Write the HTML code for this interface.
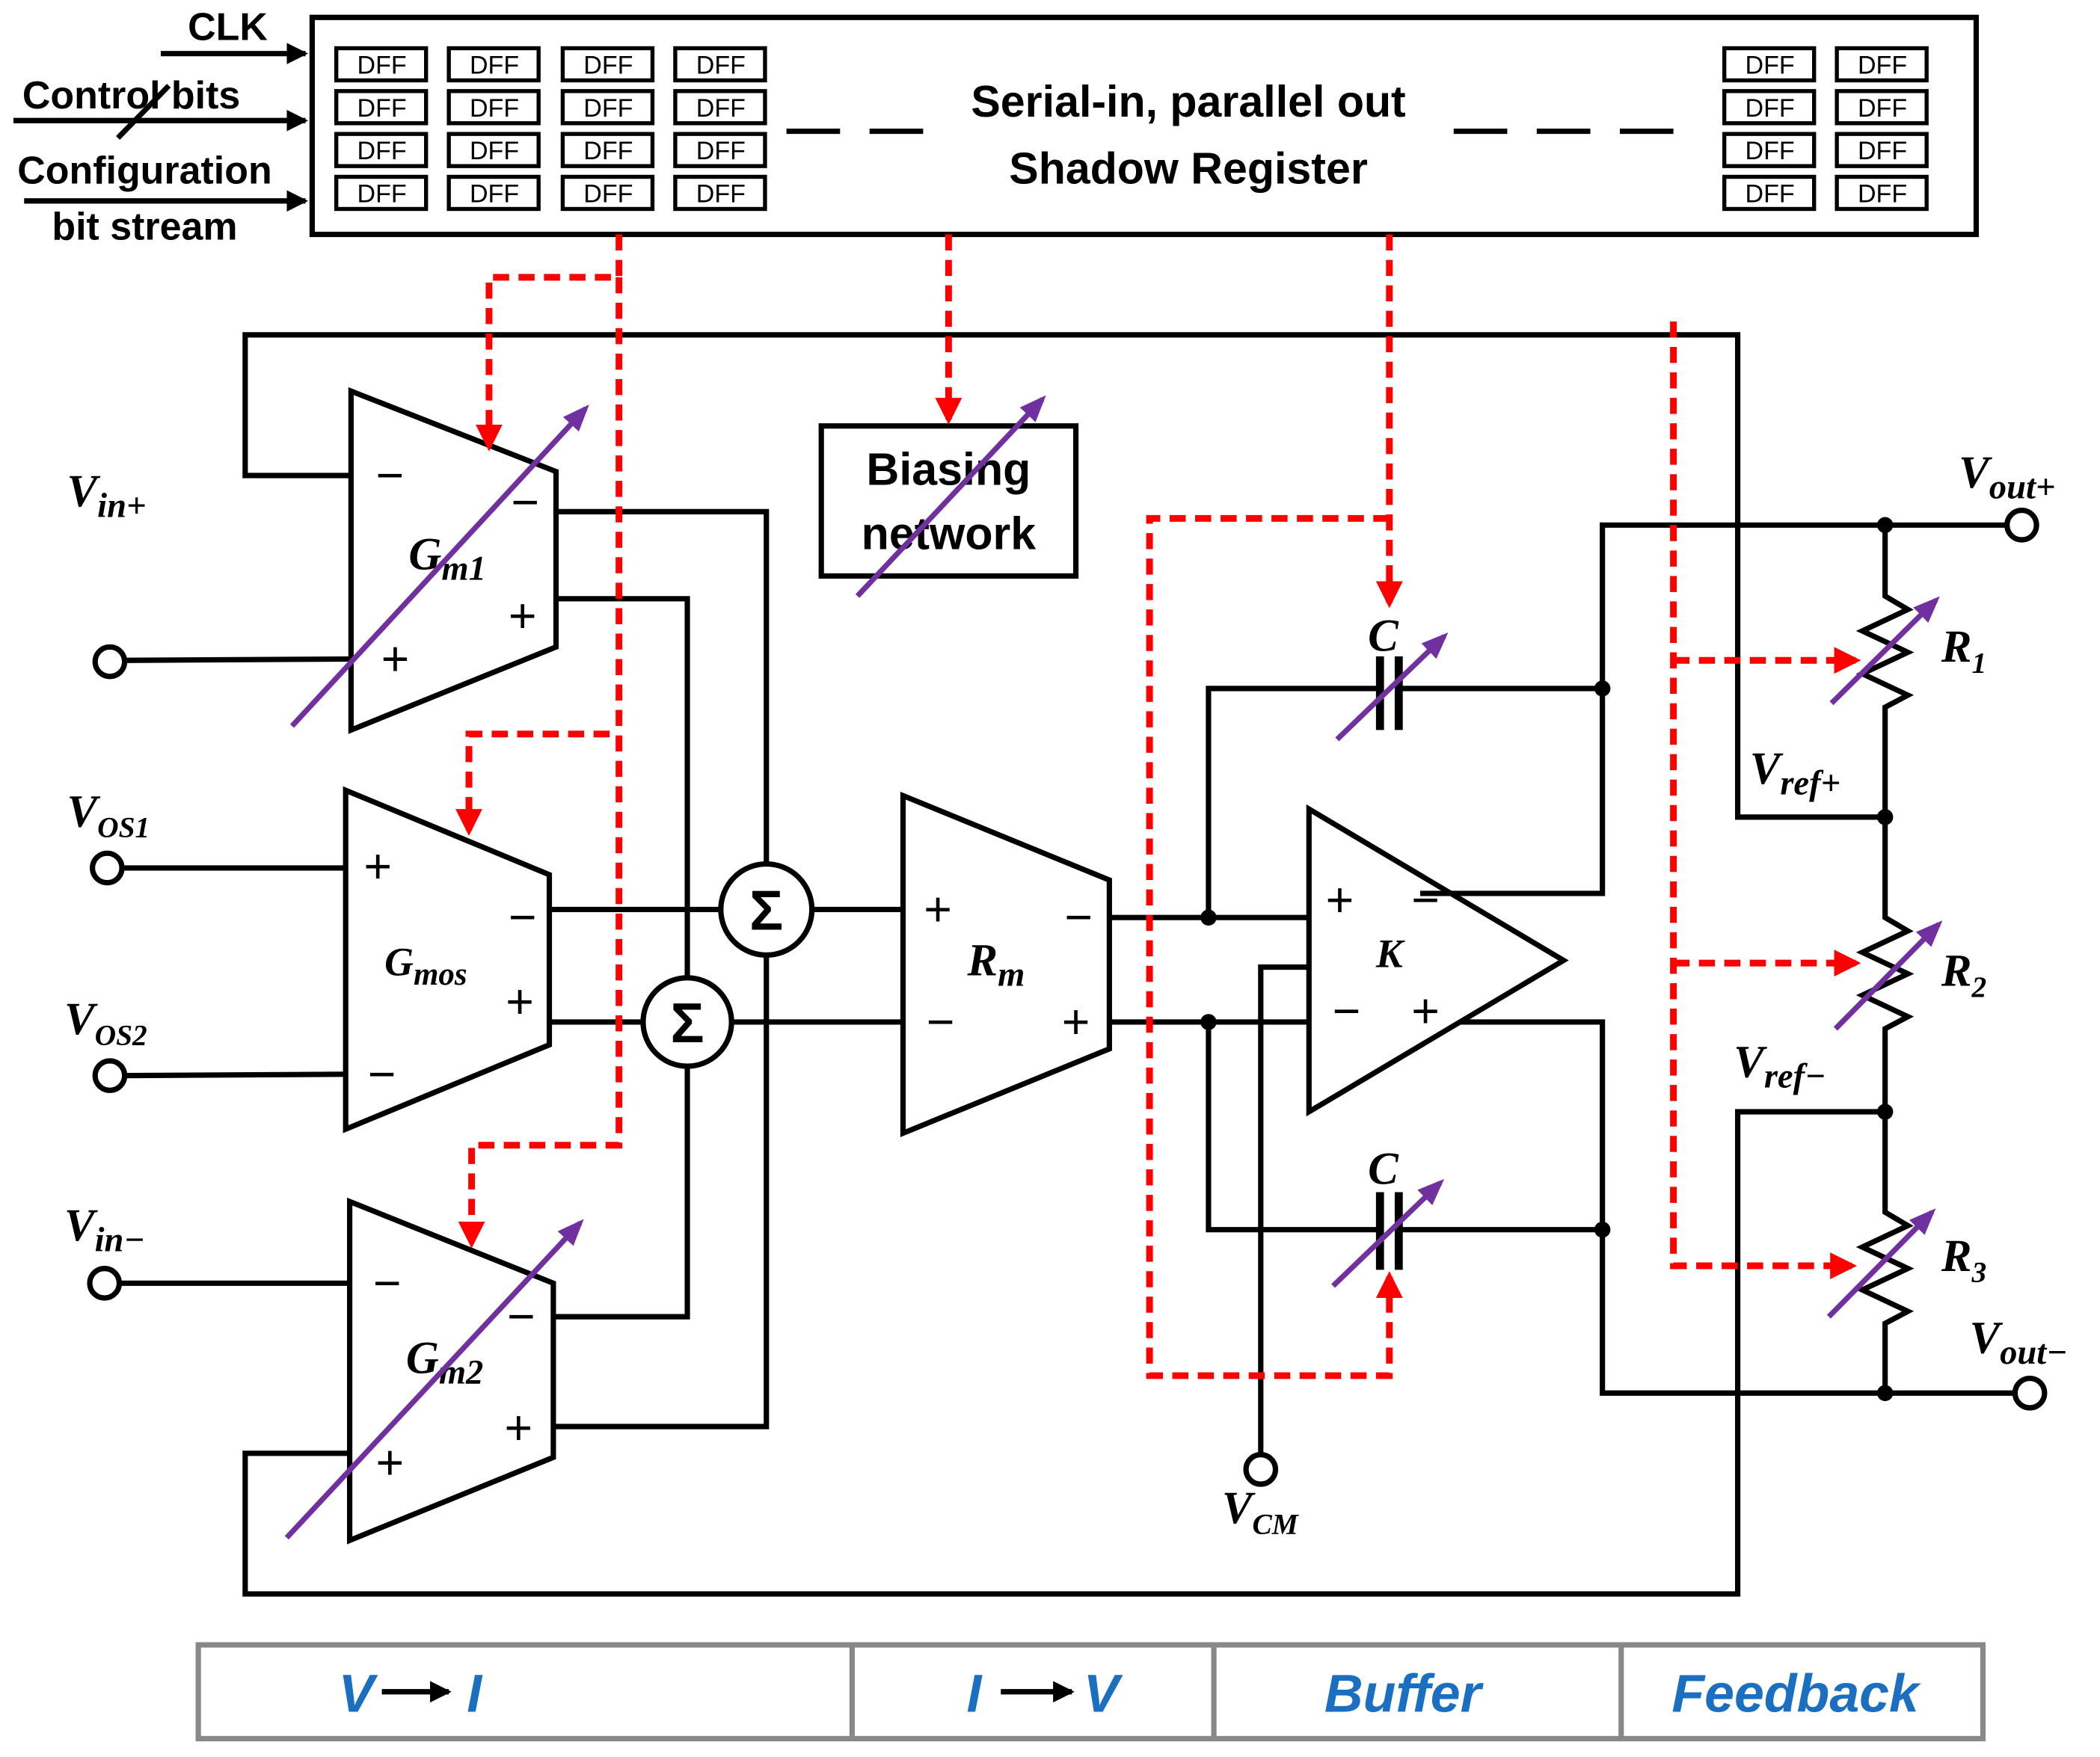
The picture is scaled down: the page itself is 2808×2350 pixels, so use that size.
<!DOCTYPE html>
<html><head><meta charset="utf-8"><style>
html,body{margin:0;padding:0;background:#fff}
svg{display:block}
.s{font-family:"Liberation Sans",sans-serif;font-weight:bold}
.m{font-family:"Liberation Serif",serif;font-weight:bold;font-style:italic}
.d{font-family:"Liberation Sans",sans-serif;font-size:19px}
</style></head><body>
<svg width="2808" height="2350" viewBox="0 0 1567.4 1311.7" preserveAspectRatio="none" xmlns="http://www.w3.org/2000/svg">
<defs>
<marker id="ra" markerWidth="4" markerHeight="4" refX="3.2" refY="2" orient="auto" markerUnits="strokeWidth"><path d="M0,0L4,2L0,4z" fill="#f00"/></marker>
<marker id="ka" markerWidth="4" markerHeight="4" refX="3.5" refY="2" orient="auto" markerUnits="strokeWidth"><path d="M0,0L4,2L0,4z" fill="#000"/></marker>
<marker id="pa" markerWidth="5" markerHeight="5" refX="4" refY="2.5" orient="auto" markerUnits="strokeWidth"><path d="M0,0.5L5,2.5L0,4.5z" fill="#7030a0"/></marker>
</defs>
<g fill="none" stroke="#000" stroke-width="4">
<rect x="233" y="13" width="1242" height="162"/>
</g>
<g fill="none" stroke="#000" stroke-width="3">
<rect x="251" y="36" width="67" height="24"/><rect x="335" y="36" width="67" height="24"/><rect x="420" y="36" width="67" height="24"/><rect x="504" y="36" width="67" height="24"/>
<rect x="251" y="68" width="67" height="24"/><rect x="335" y="68" width="67" height="24"/><rect x="420" y="68" width="67" height="24"/><rect x="504" y="68" width="67" height="24"/>
<rect x="251" y="100" width="67" height="24"/><rect x="335" y="100" width="67" height="24"/><rect x="420" y="100" width="67" height="24"/><rect x="504" y="100" width="67" height="24"/>
<rect x="251" y="132" width="67" height="24"/><rect x="335" y="132" width="67" height="24"/><rect x="420" y="132" width="67" height="24"/><rect x="504" y="132" width="67" height="24"/>
<rect x="1287" y="36" width="67" height="24"/><rect x="1371" y="36" width="67" height="24"/>
<rect x="1287" y="68" width="67" height="24"/><rect x="1371" y="68" width="67" height="24"/>
<rect x="1287" y="100" width="67" height="24"/><rect x="1371" y="100" width="67" height="24"/>
<rect x="1287" y="132" width="67" height="24"/><rect x="1371" y="132" width="67" height="24"/>
</g>
<g class="d" text-anchor="middle">
<text x="285" y="55">DFF</text><text x="369" y="55">DFF</text><text x="454" y="55">DFF</text><text x="538" y="55">DFF</text>
<text x="285" y="87">DFF</text><text x="369" y="87">DFF</text><text x="454" y="87">DFF</text><text x="538" y="87">DFF</text>
<text x="285" y="119">DFF</text><text x="369" y="119">DFF</text><text x="454" y="119">DFF</text><text x="538" y="119">DFF</text>
<text x="285" y="151">DFF</text><text x="369" y="151">DFF</text><text x="454" y="151">DFF</text><text x="538" y="151">DFF</text>
<text x="1321" y="55">DFF</text><text x="1405" y="55">DFF</text>
<text x="1321" y="87">DFF</text><text x="1405" y="87">DFF</text>
<text x="1321" y="119">DFF</text><text x="1405" y="119">DFF</text>
<text x="1321" y="151">DFF</text><text x="1405" y="151">DFF</text>
</g>
<g class="s" font-size="33" text-anchor="middle">
<text x="887" y="87">Serial-in, parallel out</text>
<text x="887" y="137">Shadow Register</text>
</g>
<g stroke="#000" stroke-width="4" stroke-dasharray="40,22" fill="none">
<line x1="587" y1="98" x2="697" y2="98"/><line x1="1085" y1="98" x2="1270" y2="98"/>
</g>
<g class="s" font-size="29" text-anchor="middle">
<text x="170" y="30">CLK</text>
<text x="98" y="81">Control bits</text>
<text x="108" y="137">Configuration</text>
<text x="108" y="179">bit stream</text>
</g>
<g stroke="#000" stroke-width="4" fill="none">
<line x1="120" y1="40" x2="228" y2="40" marker-end="url(#ka)"/>
<line x1="10" y1="90" x2="228" y2="90" marker-end="url(#ka)"/>
<line x1="88" y1="103" x2="126" y2="64"/>
<line x1="18" y1="150" x2="228" y2="150" marker-end="url(#ka)"/>
</g>
<g stroke="#000" stroke-width="4" fill="none" stroke-linejoin="miter">
<polyline points="262,355 183,355 183,250 1297,250 1297,610 1407,610"/>
<polyline points="261,1085 183,1085 183,1190 1297,1190 1297,830 1407,830"/>
<polygon points="262,292 415,352 415,483 262,545"/>
<polygon points="258,590 410,653 410,780 258,843"/>
<polygon points="261,897 413,958 413,1088 261,1150"/>
<polygon points="674,594 828,657 828,783 674,846"/>
<polygon points="977,604 1167,717 977,830"/>
<rect x="613" y="318" width="190" height="112"/>
<line x1="93" y1="493" x2="262" y2="492"/>
<line x1="91" y1="648" x2="258" y2="648"/>
<line x1="93" y1="803" x2="258" y2="802"/>
<line x1="89" y1="958" x2="261" y2="958"/>
<polyline points="415,382 572,382 572,645"/>
<polyline points="415,447 513,447 513,730"/>
<line x1="410" y1="679" x2="538" y2="679"/>
<line x1="410" y1="763" x2="480" y2="763"/>
<line x1="606" y1="679" x2="674" y2="679"/>
<line x1="546" y1="763" x2="674" y2="763"/>
<polyline points="413,983 513,983 513,796"/>
<polyline points="413,1065 572,1065 572,713"/>
<circle cx="572" cy="679" r="34"/>
<circle cx="513" cy="763" r="33"/>
<line x1="828" y1="685" x2="977" y2="685"/>
<line x1="828" y1="763" x2="977" y2="763"/>
<polyline points="902,685 902,514 1030,514"/>
<polyline points="1044,514 1196,514"/>
<polyline points="902,763 902,918 1030,918"/>
<polyline points="1044,918 1196,918"/>
<polyline points="977,722 941,722 941,1086"/>
<polyline points="1060,667 1196,667 1196,392 1498,392"/>
<polyline points="1090,763 1196,763 1196,1040 1504,1040"/>
<polyline points="1407,392 1407,445 1424,455 1390,471 1424,487 1390,503 1424,519 1407,528 1407,685 1424,695 1390,711 1424,727 1390,743 1424,759 1407,768 1407,905 1424,915 1390,931 1424,947 1390,963 1424,979 1407,988 1407,1040"/>
<circle cx="82" cy="494" r="11"/><circle cx="80" cy="648" r="11"/><circle cx="82" cy="803" r="11"/><circle cx="78" cy="958" r="11"/>
<circle cx="941" cy="1097" r="11"/><circle cx="1509" cy="392" r="11"/><circle cx="1515" cy="1040" r="11"/>
</g>
<g stroke="#000" stroke-width="6">
<line x1="1030" y1="490" x2="1030" y2="545"/><line x1="1044" y1="490" x2="1044" y2="545"/>
<line x1="1030" y1="890" x2="1030" y2="948"/><line x1="1044" y1="890" x2="1044" y2="948"/>
</g>
<g fill="#000">
<circle cx="902" cy="685" r="6"/><circle cx="902" cy="763" r="6"/>
<circle cx="1196" cy="514" r="6"/><circle cx="1196" cy="918" r="6"/>
<circle cx="1407" cy="392" r="6"/><circle cx="1407" cy="610" r="6"/><circle cx="1407" cy="830" r="6"/><circle cx="1407" cy="1040" r="6"/>
</g>
<g class="s" font-size="42" text-anchor="middle" font-weight="normal">
<text x="572" y="694">Σ</text><text x="513" y="778">Σ</text>
</g>
<g font-family="Liberation Sans,sans-serif" font-size="36" text-anchor="middle">
<text x="291" y="367">−</text><text x="392" y="387">−</text><text x="390" y="472">+</text><text x="295" y="504">+</text>
<text x="282" y="659">+</text><text x="390" y="697">−</text><text x="388" y="760">+</text><text x="285" y="814">−</text>
<text x="289" y="970">−</text><text x="389" y="995">−</text><text x="387" y="1078">+</text><text x="291" y="1104">+</text>
<text x="700" y="691">+</text><text x="805" y="697">−</text><text x="702" y="775">−</text><text x="803" y="775">+</text>
<text x="1000" y="684">+</text><text x="1064" y="684">−</text><text x="1005" y="767">−</text><text x="1064" y="767">+</text>
</g>
<g class="s" font-size="34" text-anchor="middle">
<text x="708" y="362">Biasing</text><text x="708" y="410">network</text>
</g>
<g class="m" font-size="34">
<text x="305" y="425">G<tspan font-size="26" dy="8">m1</tspan></text>
<text x="287" y="728" font-size="30">G<tspan font-size="24" dy="7">mos</tspan></text>
<text x="303" y="1025">G<tspan font-size="26" dy="8">m2</tspan></text>
<text x="722" y="728">R<tspan font-size="26" dy="8">m</tspan></text>
<text x="1027" y="722" font-size="30">K</text>
<text x="1021" y="486">C</text><text x="1021" y="884">C</text>
<text x="50" y="378">V<tspan font-size="26" dy="8">in+</tspan></text>
<text x="50" y="617">V<tspan font-size="22" dy="8">OS1</tspan></text>
<text x="48" y="772">V<tspan font-size="22" dy="8">OS2</tspan></text>
<text x="48" y="926">V<tspan font-size="26" dy="8">in−</tspan></text>
<text x="912" y="1137">V<tspan font-size="22" dy="8">CM</tspan></text>
<text x="1462" y="364">V<tspan font-size="26" dy="8">out+</tspan></text>
<text x="1470" y="1010">V<tspan font-size="26" dy="8">out−</tspan></text>
<text x="1306" y="585">V<tspan font-size="26" dy="8">ref+</tspan></text>
<text x="1294" y="804">V<tspan font-size="26" dy="8">ref−</tspan></text>
<text x="1449" y="494">R<tspan font-size="22" dy="8">1</tspan></text>
<text x="1449" y="736">R<tspan font-size="22" dy="8">2</tspan></text>
<text x="1449" y="949">R<tspan font-size="22" dy="8">3</tspan></text>
</g>
<g stroke="#7030a0" stroke-width="4" fill="none">
<line x1="218" y1="542" x2="437" y2="305" marker-end="url(#pa)"/>
<line x1="214" y1="1148" x2="433" y2="913" marker-end="url(#pa)"/>
<line x1="640" y1="445" x2="778" y2="298" marker-end="url(#pa)"/>
<line x1="998" y1="552" x2="1078" y2="475" marker-end="url(#pa)"/>
<line x1="995" y1="960" x2="1075" y2="883" marker-end="url(#pa)"/>
<line x1="1367" y1="525" x2="1445" y2="448" marker-end="url(#pa)"/>
<line x1="1370" y1="768" x2="1447" y2="690" marker-end="url(#pa)"/>
<line x1="1365" y1="983" x2="1442" y2="905" marker-end="url(#pa)"/>
</g>
<g stroke="#f00" stroke-width="5" fill="none" stroke-dasharray="12,7">
<polyline points="462,175 462,207 365,207 365,333" marker-end="url(#ra)"/>
<polyline points="462,207 462,855 352,855 352,928" marker-end="url(#ra)"/>
<polyline points="455,548 350,548 350,620" marker-end="url(#ra)"/>
<polyline points="708,175 708,313" marker-end="url(#ra)"/>
<polyline points="1037,175 1037,450" marker-end="url(#ra)"/>
<polyline points="1037,387 858,387 858,1027 1037,1027 1037,953" marker-end="url(#ra)"/>
<polyline points="1249,240 1249,945 1382,945" marker-end="url(#ra)"/>
<polyline points="1249,493 1385,493" marker-end="url(#ra)"/>
<polyline points="1249,719 1385,719" marker-end="url(#ra)"/>
</g>
<g stroke="#888" stroke-width="4" fill="none">
<rect x="148" y="1228" width="1332" height="70"/>
<line x1="636" y1="1228" x2="636" y2="1298"/><line x1="906" y1="1228" x2="906" y2="1298"/><line x1="1210" y1="1228" x2="1210" y2="1298"/>
</g>
<g class="s" font-style="italic" font-size="40" fill="#1a6fc0" text-anchor="middle">
<text x="266" y="1278">V</text><text x="354" y="1278">I</text>
<text x="727" y="1278">I</text><text x="822" y="1278">V</text>
<text x="1047" y="1278">Buffer</text>
<text x="1340" y="1278">Feedback</text>
</g>
<g stroke="#000" stroke-width="4">
<line x1="285" y1="1263" x2="335" y2="1263" marker-end="url(#ka)"/>
<line x1="747" y1="1263" x2="800" y2="1263" marker-end="url(#ka)"/>
</g>
</svg>
</body></html>
